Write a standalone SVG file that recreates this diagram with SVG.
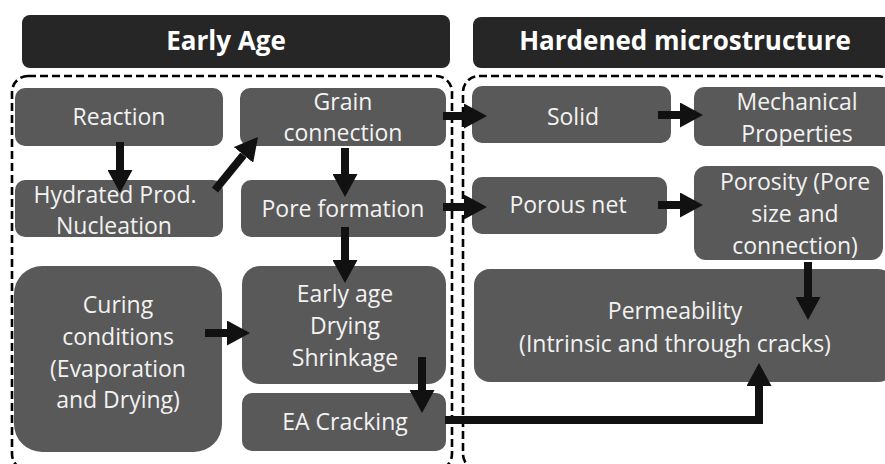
<svg xmlns="http://www.w3.org/2000/svg" width="885" height="464" viewBox="0 0 885 464">
  <style>
    .hdr { fill: #262626; }
    .node { fill: #595959; }
    .ht { font-family: "Open Sans", "Liberation Sans", sans-serif; font-weight: bold; font-size: 26px; fill: #ffffff; text-anchor: middle; }
    .t { font-family: "Open Sans", "Liberation Sans", sans-serif; font-size: 23px; fill: #f2f2f2; text-anchor: middle; }
    .zone { fill: none; stroke: #000; stroke-width: 2.6; stroke-dasharray: 8 4; }
    .arr { fill: none; stroke: #111; stroke-width: 8; marker-end: url(#head); }
  </style>
  <defs>
    <marker id="head" viewBox="0 0 23 25" refX="0" refY="12.5" markerWidth="23" markerHeight="25" markerUnits="userSpaceOnUse" orient="auto">
      <path d="M0,0 L23,12.5 L0,25 Z" fill="#111"/>
    </marker>
  </defs>
  <rect width="885" height="464" fill="#ffffff"/>

  <!-- column headers -->
  <g id="header-early">
    <rect class="hdr" x="22" y="15" width="428" height="53" rx="8"/>
    <text class="ht" x="226" y="50">Early Age</text>
  </g>
  <g id="header-hardened">
    <rect class="hdr" x="473" y="17" width="425" height="51" rx="8"/>
    <text class="ht" x="685" y="50">Hardened microstructure</text>
  </g>

  <!-- dashed zones -->
  <g id="zones">
    <rect class="zone" x="12" y="76" width="440" height="394" rx="16"/>
    <rect class="zone" x="463" y="76" width="430" height="394" rx="16"/>
  </g>

  <!-- early age nodes -->
  <g id="reaction">
    <rect class="node" x="15" y="88" width="208" height="58" rx="10"/>
    <text class="t" x="119" y="125">Reaction</text>
  </g>
  <g id="grain">
    <rect class="node" x="240" y="88" width="206" height="58" rx="10"/>
    <text class="t" x="343" y="110">Grain</text>
    <text class="t" x="343" y="141">connection</text>
  </g>
  <g id="hydrated">
    <rect class="node" x="15" y="180" width="208" height="57" rx="10"/>
    <text class="t" x="115" y="203">Hydrated Prod.</text>
    <text class="t" x="114" y="234">Nucleation</text>
  </g>
  <g id="pore-formation">
    <rect class="node" x="241" y="180" width="205" height="57" rx="10"/>
    <text class="t" x="343" y="217">Pore formation</text>
  </g>
  <g id="curing">
    <rect class="node" x="14" y="266" width="208" height="186" rx="28"/>
    <text class="t" x="118" y="313">Curing</text>
    <text class="t" x="118" y="345">conditions</text>
    <text class="t" x="118" y="377">(Evaporation</text>
    <text class="t" x="118" y="408">and Drying)</text>
  </g>
  <g id="shrinkage">
    <rect class="node" x="242" y="266" width="204" height="118" rx="18"/>
    <text class="t" x="345" y="302">Early age</text>
    <text class="t" x="345" y="334">Drying</text>
    <text class="t" x="345" y="366">Shrinkage</text>
  </g>
  <g id="ea-cracking">
    <rect class="node" x="242" y="393" width="204" height="58" rx="10"/>
    <text class="t" x="345" y="430">EA Cracking</text>
  </g>

  <!-- hardened microstructure nodes -->
  <g id="solid">
    <rect class="node" x="472" y="86" width="199" height="57" rx="10"/>
    <text class="t" x="573" y="125">Solid</text>
  </g>
  <g id="mechanical">
    <rect class="node" x="694" y="87" width="200" height="59" rx="10"/>
    <text class="t" x="797" y="110">Mechanical</text>
    <text class="t" x="797" y="142">Properties</text>
  </g>
  <g id="porous-net">
    <rect class="node" x="472" y="177" width="195" height="57" rx="10"/>
    <text class="t" x="568" y="213">Porous net</text>
  </g>
  <g id="porosity">
    <rect class="node" x="694" y="166" width="189" height="94" rx="12"/>
    <text class="t" x="795" y="190">Porosity (Pore</text>
    <text class="t" x="795" y="222">size and</text>
    <text class="t" x="795" y="254">connection)</text>
  </g>
  <g id="permeability">
    <rect class="node" x="474" y="269" width="420" height="113" rx="16"/>
    <text class="t" x="675" y="319">Permeability</text>
    <text class="t" x="675" y="352">(Intrinsic and through cracks)</text>
  </g>

  <!-- connectors -->
  <g id="connectors">
    <line class="arr" x1="120" y1="142" x2="120" y2="170"/>
    <line class="arr" x1="215" y1="190" x2="243.5" y2="154.9"/>
    <line class="arr" x1="345" y1="148" x2="345" y2="174"/>
    <line class="arr" x1="345" y1="227" x2="345" y2="260"/>
    <line class="arr" x1="205" y1="333" x2="227" y2="333"/>
    <line class="arr" x1="422" y1="357" x2="422" y2="390"/>
    <path class="arr" d="M445,420 H759 V386"/>
    <line class="arr" x1="443" y1="116" x2="464" y2="116"/>
    <line class="arr" x1="443" y1="207" x2="464" y2="207"/>
    <line class="arr" x1="658" y1="115" x2="680" y2="115"/>
    <line class="arr" x1="658" y1="205" x2="680" y2="205"/>
    <line class="arr" x1="808" y1="262" x2="808" y2="297"/>
  </g>
</svg>
